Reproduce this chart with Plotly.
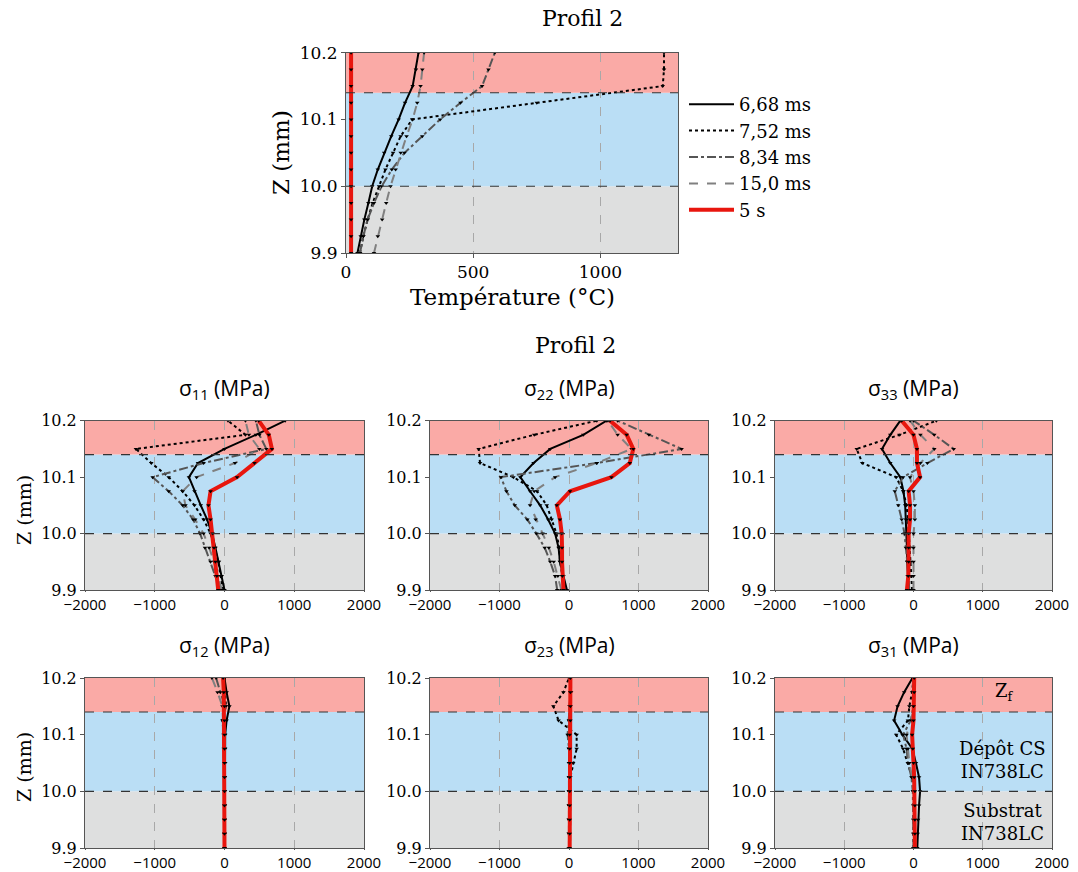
import plotly.graph_objects as go

# ---------------- data ----------------
Z = [9.9, 9.925, 9.95, 9.975, 10.0, 10.025, 10.05, 10.075, 10.1, 10.125, 10.15, 10.175, 10.2]
SERIES = ["6,68 ms", "7,52 ms", "8,34 ms", "15,0 ms", "5 s"]

T_668 = [45, 58, 72, 88, 103, 125, 150, 178, 207, 232, 262, 275, 285]
T_752 = [55, 68, 85, 105, 130, 155, 185, 215, 260, 750, 1245, 1250, 1250]
T_834 = [55, 68, 85, 110, 140, 180, 230, 300, 370, 450, 535, 560, 585]
T_150 = [110, 125, 142, 158, 175, 195, 215, 238, 262, 280, 293, 300, 307]
T_5s = [20, 20, 20, 20, 20, 20, 20, 20, 20, 20, 20, 20, 20]

S11_668 = [0, -40, -80, -130, -180, -250, -340, -430, -510, -380, 0, 450, 870]
S11_752 = [-20, -50, -90, -140, -200, -300, -430, -600, -800, -1050, -1270, 300, 50]
S11_834 = [-60, -130, -200, -280, -350, -450, -600, -800, -1030, -300, 600, 500, 450]
S11_150 = [-40, -90, -150, -220, -300, -420, -560, -600, -400, 150, 500, 350, 300]
S11_5s = [-90, -110, -130, -150, -170, -200, -230, -200, 180, 430, 680, 635, 490]

S22_668 = [-30, -80, -130, -150, -200, -300, -415, -560, -700, -510, -270, 205, 540]
S22_752 = [-60, -100, -130, -140, -180, -250, -320, -460, -800, -1280, -1300, -500, 400]
S22_834 = [-170, -200, -270, -350, -470, -600, -780, -900, -980, 400, 1620, 1150, 700]
S22_150 = [-110, -160, -220, -290, -380, -480, -560, -500, -200, 400, 900, 700, 560]
S22_5s = [-80, -95, -100, -100, -105, -130, -175, 15, 610, 875, 925, 830, 590]

S33_668 = [-70, -85, -90, -95, -100, -110, -120, -145, -190, -335, -455, -335, -190]
S33_752 = [-20, -30, -40, -50, -60, -80, -100, -150, -250, -740, -820, -200, 330]
S33_834 = [-60, -70, -90, -110, -130, -170, -220, -270, -150, 200, 580, 300, 0]
S33_150 = [0, 0, 0, 0, 0, 20, 20, 0, -50, 100, 300, 100, -50]
S33_5s = [-95, -75, -70, -70, -70, -50, -50, -70, 95, 50, 50, 0, -170]

S12_668 = [0, 0, 0, 5, 5, 5, 10, 10, 10, 30, 70, 30, 0]
S12_752 = [0, 0, 0, 0, 0, 0, 0, -10, -10, -30, 20, 10, 0]
S12_834 = [0, 0, 0, 0, 0, 0, 0, 0, 0, -20, 10, -60, -120]
S12_150 = [0, 0, 0, 0, 0, 0, 0, 0, -10, -20, -30, -100, -180]
S12_5s = [0, 0, 0, 0, 0, 0, 0, 0, 0, 0, 0, -10, -20]

S23_668 = [0, 0, 0, 0, 0, 0, 0, 0, 0, 0, 10, 20, 20]
S23_752 = [0, 0, 0, 0, 0, 20, 60, 110, 110, -150, -225, -80, 0]
S23_834 = [0, 0, 0, 0, 0, 0, 0, 0, -20, 0, 10, 20, 10]
S23_150 = [0, 0, 0, 0, 0, 0, 10, 0, 0, 10, 20, 30, 20]
S23_5s = [10, 10, 10, 10, 10, 10, 10, 10, 10, 20, 20, 20, 20]

S31_668 = [55, 60, 65, 80, 95, 80, 35, -15, -160, -280, -230, -135, -15]
S31_752 = [0, 0, 0, 0, 0, -20, -80, -150, -250, -80, -60, -20, 0]
S31_834 = [0, 0, 0, 0, -10, -30, -80, -100, -150, -40, 0, 0, 0]
S31_150 = [10, 10, 10, 10, 0, -20, -60, -80, -100, -30, 0, 0, 0]
S31_5s = [20, 20, 20, 20, 20, 10, 0, -10, -20, 0, 0, 10, 10]

PANELS = [
    ("σ<sub>11</sub> (MPa)", [S11_668, S11_752, S11_834, S11_150, S11_5s]),
    ("σ<sub>22</sub> (MPa)", [S22_668, S22_752, S22_834, S22_150, S22_5s]),
    ("σ<sub>33</sub> (MPa)", [S33_668, S33_752, S33_834, S33_150, S33_5s]),
    ("σ<sub>12</sub> (MPa)", [S12_668, S12_752, S12_834, S12_150, S12_5s]),
    ("σ<sub>23</sub> (MPa)", [S23_668, S23_752, S23_834, S23_150, S23_5s]),
    ("σ<sub>31</sub> (MPa)", [S31_668, S31_752, S31_834, S31_150, S31_5s]),
]

# ---------------- styles ----------------
W, H = 1078, 872
SERIF = "DejaVu Serif"
SANS = "Open Sans"
STYLES = [
    dict(color="black", dash="solid", width=2),
    dict(color="black", dash="dot", width=2),
    dict(color="#555555", dash="dashdot", width=2),
    dict(color="#808080", dash="dash", width=2),
    dict(color="#e8160e", dash="solid", width=4),
]
BANDS = [(9.9, 10.0, "rgb(222,223,223)"), (10.0, 10.14, "rgb(186,222,245)"), (10.14, 10.2, "rgb(250,170,166)")]


def fx(px):
    return px / W


def fy(py):
    return 1 - py / H


fig = go.Figure()

TOP_X = (346, 678)
TOP_Y = (52.7, 253)
COLS = [(85, 364), (430, 708), (775, 1052)]
ROWS = [(420.7, 590), (678, 848)]

axes = []
axes.append(("x", "y", TOP_X, TOP_Y))
k = 2
for r in ROWS:
    for c in COLS:
        axes.append((f"x{k}", f"y{k}", c, r))
        k += 1

layout = {}
shapes = []
annotations = []
for i, (xn, yn, xd, yd) in enumerate(axes):
    xkey = "xaxis" if xn == "x" else "xaxis" + xn[1:]
    ykey = "yaxis" if yn == "y" else "yaxis" + yn[1:]
    top = (i == 0)
    layout[xkey] = dict(
        domain=[fx(xd[0]), fx(xd[1])], anchor=yn,
        range=[0, 1305] if top else [-2000, 2000],
        tickvals=[0, 500, 1000] if top else [-2000, -1000, 0, 1000, 2000],
        showgrid=True, gridcolor="#a8a8a8", griddash="dash", gridwidth=1,
        zeroline=False, showline=True, mirror=True, linecolor="#555555", linewidth=1,
        ticks="outside", ticklen=4 if top else 1, tickcolor="#555555", automargin=False,
        tickfont=dict(family=SERIF if top else SANS, size=17 if top else 15, color="black"),
    )
    layout[ykey] = dict(
        domain=[fy(yd[1]), fy(yd[0])], anchor=xn,
        range=[9.9, 10.2], tickvals=[9.9, 10.0, 10.1, 10.2], tickformat=".1f",
        showgrid=False, zeroline=False, showline=True, mirror=True, linecolor="#555555", linewidth=1,
        ticks="outside", ticklen=4, tickcolor="#555555", automargin=False,
        tickfont=dict(family=SERIF, size=17 if top else 16, color="black"),
    )
    xdomref = xn + " domain"
    for (z0, z1, col) in BANDS:
        shapes.append(dict(type="rect", xref=xdomref, yref=yn, x0=0, x1=1, y0=z0, y1=z1,
                           fillcolor=col, line=dict(width=0), layer="below"))
    for zl in (10.0, 10.14):
        shapes.append(dict(type="line", xref=xdomref, yref=yn, x0=0, x1=1, y0=zl, y1=zl,
                           line=dict(color="#333333", width=1.2, dash="dash"), layer="above"))

# top temperature panel
for s, vals in enumerate([T_668, T_752, T_834, T_150, T_5s]):
    st = STYLES[s]
    fig.add_trace(go.Scatter(
        x=vals, y=Z, xaxis="x", yaxis="y", mode="lines+markers", name=SERIES[s],
        line=dict(color=st["color"], dash=st["dash"], width=st["width"]),
        marker=dict(symbol="triangle-down", size=4, color="black"),
        showlegend=False,
    ))
# legend entries (lines only)
for s in range(5):
    st = STYLES[s]
    fig.add_trace(go.Scatter(
        x=[None], y=[None], xaxis="x", yaxis="y", mode="lines", name=SERIES[s],
        line=dict(color=st["color"], dash=st["dash"], width=st["width"]),
        showlegend=True,
    ))

for p, (title, series) in enumerate(PANELS):
    xn, yn = axes[p + 1][0], axes[p + 1][1]
    for s, vals in enumerate(series):
        st = STYLES[s]
        fig.add_trace(go.Scatter(
            x=vals, y=Z, xaxis=xn, yaxis=yn, mode="lines+markers", name=SERIES[s],
            line=dict(color=st["color"], dash=st["dash"], width=st["width"]),
            marker=dict(symbol="triangle-down", size=4, color="black"),
            showlegend=False,
        ))
    xd, yd = axes[p + 1][2], axes[p + 1][3]
    annotations.append(dict(text=title, x=fx((xd[0] + xd[1]) / 2), y=fy(yd[0] - 32),
                            font=dict(family=SANS, size=21, color="black")))


def ann(text, px, py, family, size, angle=0):
    return dict(text=text, x=fx(px), y=fy(py), textangle=angle,
                font=dict(family=family, size=size, color="black"))


annotations += [
    ann("Profil 2", 582, 18, SERIF, 22),
    ann("Profil 2", 575, 345, SERIF, 22),
    ann("Température (°C)", 512, 297, SERIF, 23),
    ann("Z (mm)", 281, 153, SERIF, 23, -90),
    ann("Z (mm)", 24, 510, SERIF, 19, -90),
    ann("Z (mm)", 24, 767, SERIF, 19, -90),
    ann("Z<sub>f</sub>", 1004, 692, SERIF, 18),
    ann("Dépôt CS<br>IN738LC", 1002, 760, SERIF, 18),
    ann("Substrat<br>IN738LC", 1002, 822, SERIF, 18),
]
for a in annotations:
    a.update(xref="paper", yref="paper", showarrow=False, xanchor="center", yanchor="middle")

fig.update_layout(
    width=W, height=H, margin=dict(l=0, r=0, t=0, b=0, autoexpand=False),
    paper_bgcolor="white", plot_bgcolor="white",
    shapes=shapes, annotations=annotations,
    legend=dict(x=fx(684), y=fy(86), xanchor="left", yanchor="top", itemwidth=45,
                font=dict(family=SERIF, size=18, color="black"),
                bgcolor="white", borderwidth=0, tracegroupgap=0),
    **layout,
)

fig.write_html("out.html", config={"displayModeBar": False},
               post_script="document.body.style.margin='0';document.body.style.overflow='hidden';")
